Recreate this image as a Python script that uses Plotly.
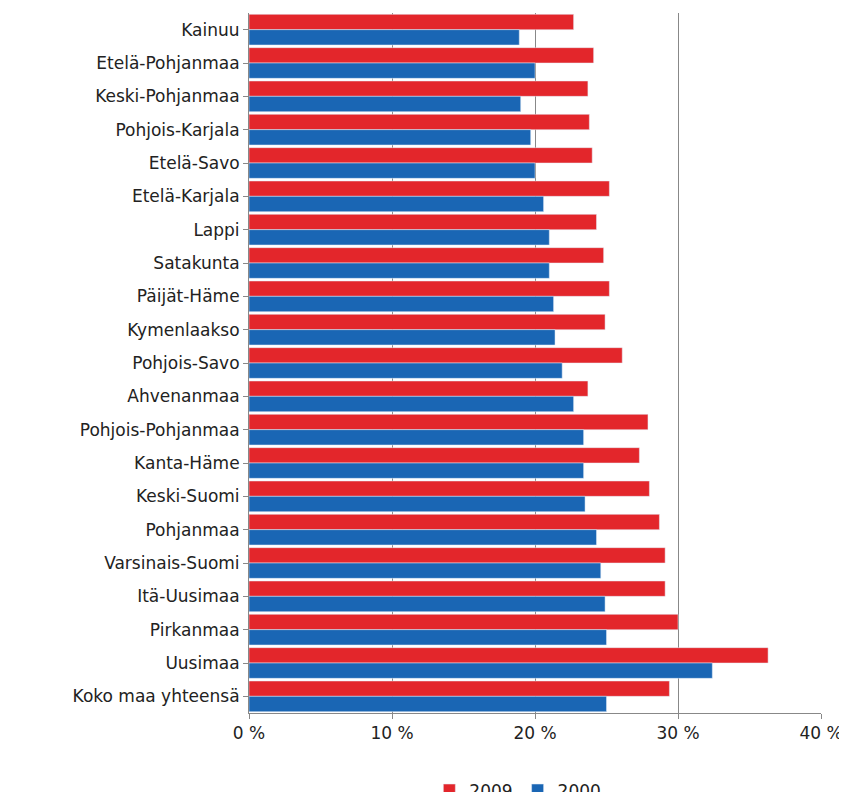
import plotly.graph_objects as go

regions = ["Kainuu","Etelä-Pohjanmaa","Keski-Pohjanmaa","Pohjois-Karjala","Etelä-Savo","Etelä-Karjala","Lappi","Satakunta","Päijät-Häme","Kymenlaakso","Pohjois-Savo","Ahvenanmaa","Pohjois-Pohjanmaa","Kanta-Häme","Keski-Suomi","Pohjanmaa","Varsinais-Suomi","Itä-Uusimaa","Pirkanmaa","Uusimaa","Koko maa yhteensä"]
v2009 = [22.7,24.1,23.7,23.8,24.0,25.2,24.3,24.8,25.2,24.9,26.1,23.7,27.9,27.3,28.0,28.7,29.1,29.1,30.0,36.3,29.4]
v2000 = [18.9,20.0,19.0,19.7,20.0,20.6,21.0,21.0,21.3,21.4,21.9,22.7,23.4,23.4,23.5,24.3,24.6,24.9,25.0,32.4,25.0]
tickvals = [0,10,20,30,40]
ticktext = ["0 %","10 %","20 %","30 %","40 %"]

fig = go.Figure()
fig.add_bar(y=regions, x=v2009, name="2009", orientation="h", marker_color="#E3262B")
fig.add_bar(y=regions, x=v2000, name="2000", orientation="h", marker_color="#1A66B4")
fig.update_layout(
    width=847, height=792, barmode="group", bargap=0.08, bargroupgap=0,
    plot_bgcolor="white", paper_bgcolor="white",
    font=dict(family="DejaVu Sans, Verdana", size=17, color="#222"),
    margin=dict(l=241, r=34, t=5, b=87, autoexpand=False),
    legend=dict(orientation="h", x=0.47, xanchor="center", y=-0.085, yanchor="top", font=dict(size=17)),
    xaxis=dict(range=[0,40], tickvals=tickvals, ticktext=ticktext, showgrid=True, gridcolor="#888",
               gridwidth=1, zeroline=False, showline=True, linecolor="#888", ticks="outside", ticklen=5,
               tickcolor="#888", automargin=False),
    yaxis=dict(autorange="reversed", showline=True, linecolor="#888", ticks="outside", ticklen=5,
               tickcolor="#888", automargin=False),
)
fig.write_html("out.html")
